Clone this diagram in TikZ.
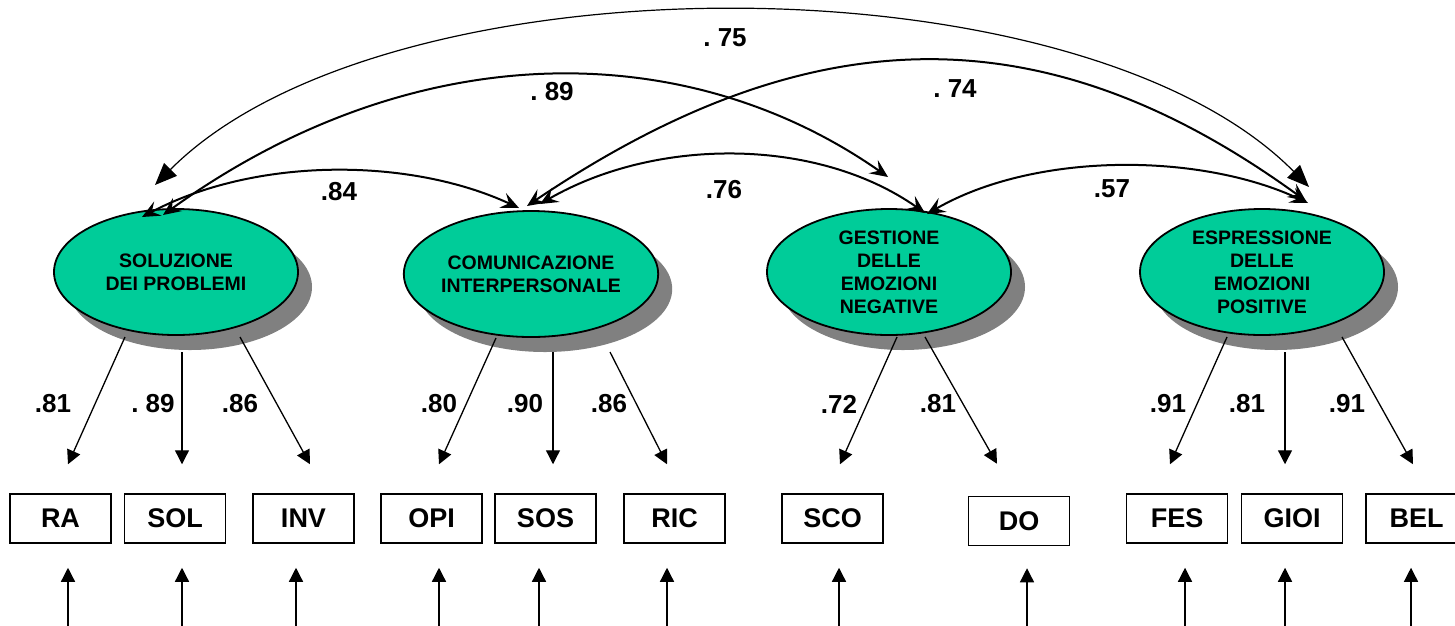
\documentclass[tikz,border=0pt]{standalone}
\usepackage{fontspec}
\setmainfont{Liberation Sans}
\usetikzlibrary{shapes.geometric,shadows,arrows.meta,calc}
\definecolor{latentfill}{RGB}{0,204,153}
\definecolor{shadowgray}{RGB}{128,128,128}
\begin{document}
\begin{tikzpicture}[x=1pt,y=-1pt,
  latent/.style={ellipse, draw, line width=1.8pt, fill=latentfill,
    minimum width=244pt, minimum height=126pt, inner sep=0pt, align=center,
    font=\fontsize{19.5}{23}\selectfont\bfseries,
    drop shadow={shadow xshift=14pt, shadow yshift=-15pt, fill=shadowgray, opacity=1}},
  observed/.style={rectangle, draw, line width=1.5pt, minimum width=101pt,
    minimum height=49pt, inner sep=0pt, font=\fontsize{27}{30}\selectfont\bfseries},
  coef/.style={inner sep=0pt, font=\fontsize{26}{28}\selectfont\bfseries},
  corr/.style={line width=2pt,
    {Stealth[length=18pt,width=16pt,inset=7pt]}-{Stealth[length=18pt,width=16pt,inset=7pt]}},
  corrwide/.style={line width=1.2pt,
    {Triangle[length=22pt,width=18pt]}-{Triangle[length=22pt,width=18pt]}},
  load/.style={line width=1.3pt, -{Triangle[length=14pt,width=14pt]}},
  err/.style={line width=1.3pt, -{Triangle[length=14pt,width=14pt]}}
]
\useasboundingbox (0,0) rectangle (1455,625);
\clip (0,0) rectangle (1455,625);

% latent factors
\node[latent] (E1) at (176,272) {SOLUZIONE\\DEI PROBLEMI};
\node[latent] (E2) at (531,274) {COMUNICAZIONE\\INTERPERSONALE};
\node[latent] (E3) at (889,272) {GESTIONE\\DELLE\\EMOZIONI\\NEGATIVE};
\node[latent] (E4) at (1262,272) {ESPRESSIONE\\DELLE\\EMOZIONI\\POSITIVE};

% observed indicators
\node[observed] (RA)   at (60.5,518.5)  {RA};
\node[observed] (SOL)  at (175,518.5)   {SOL};
\node[observed] (INV)  at (303.5,518.5) {INV};
\node[observed] (OPI)  at (431.5,518.5) {OPI};
\node[observed] (SOS)  at (545.5,518.5) {SOS};
\node[observed] (RIC)  at (674.5,518.5) {RIC};
\node[observed] (SCO)  at (832.5,518.5) {SCO};
\node[observed] (DO)   at (1019,521)    {DO};
\node[observed] (FES)  at (1177,518.5)  {FES};
\node[observed] (GIOI) at (1292,518.5)  {GIOI};
\node[observed] (BEL)  at (1416.5,518.5) {BEL};

% factor loadings
\draw[load] ($(E1)+(-51,65)$) -- ($(RA.north)+(7.5,-29)$);
\draw[load] ($(E1)+(6,80)$)   -- ($(SOL.north)+(7,-29)$);
\draw[load] ($(E1)+(64,65)$)  -- ($(INV.north)+(6.5,-29)$);
\draw[load] ($(E2)+(-35,64)$) -- ($(OPI.north)+(7.5,-29)$);
\draw[load] ($(E2)+(22,78)$)  -- ($(SOS.north)+(7.5,-29)$);
\draw[load] ($(E2)+(79,78)$)  -- ($(RIC.north)+(-7.5,-29)$);
\draw[load] ($(E3)+(8,65)$)   -- ($(SCO.north)+(7.5,-29)$);
\draw[load] ($(E3)+(36,65)$)  -- ($(DO.north)+(-22,-32)$);
\draw[load] ($(E4)+(-35,65)$) -- ($(FES.north)+(-7,-29)$);
\draw[load] ($(E4)+(23,80)$)  -- ($(GIOI.north)+(-7,-29)$);
\draw[load] ($(E4)+(80,65)$)  -- ($(BEL.north)+(-3.5,-29)$);

\node[coef] (l1)  at (53,404)   {.81};
\node[coef] (l2)  at (153,404)  {.\ 89};
\node[coef] (l3)  at (240,404)  {.86};
\node[coef] (l4)  at (439,404)  {.80};
\node[coef] (l5)  at (525,404)  {.90};
\node[coef] (l6)  at (609,404)  {.86};
\node[coef] (l7)  at (839,404)  {.72};
\node[coef] (l8)  at (938,404)  {.81};
\node[coef] (l9)  at (1168,404) {.91};
\node[coef] (l10) at (1247,404) {.81};
\node[coef] (l11) at (1347,404) {.91};

% error terms
\draw[err] ($(RA.south)+(7.5,82)$)   -- ($(RA.south)+(7.5,24)$);
\draw[err] ($(SOL.south)+(7,82)$)    -- ($(SOL.south)+(7,24)$);
\draw[err] ($(INV.south)+(-7.5,82)$) -- ($(INV.south)+(-7.5,24)$);
\draw[err] ($(OPI.south)+(7.5,82)$)  -- ($(OPI.south)+(7.5,24)$);
\draw[err] ($(SOS.south)+(-6.5,82)$) -- ($(SOS.south)+(-6.5,24)$);
\draw[err] ($(RIC.south)+(-7.5,82)$) -- ($(RIC.south)+(-7.5,24)$);
\draw[err] ($(SCO.south)+(6.5,82)$)  -- ($(SCO.south)+(6.5,24)$);
\draw[err] ($(DO.south)+(8,80)$)     -- ($(DO.south)+(8,22)$);
\draw[err] ($(FES.south)+(8,82)$)    -- ($(FES.south)+(8,24)$);
\draw[err] ($(GIOI.south)+(-7,82)$)  -- ($(GIOI.south)+(-7,24)$);
\draw[err] ($(BEL.south)+(-5.5,82)$) -- ($(BEL.south)+(-5.5,24)$);

% factor correlations
\draw[corr] ($(E1)+(-34,-55)$) .. controls +(113,-60) and +(-110,-51) .. ($(E2)+(-12,-66)$);
\draw[corr] ($(E2)+(9,-70)$)   .. controls +(116,-67) and +(-108,-76) .. ($(E3)+(36,-59)$);
\draw[corr] ($(E3)+(38,-58)$)  .. controls +(107,-62) and +(-109,-51) .. ($(E4)+(46,-69)$);
\draw[corr] ($(E1)+(-13,-57)$) .. controls +(250,-180) and +(-203,-142) .. ($(E3)+(-1,-95)$);
\draw[corr] ($(E2)+(-4,-68)$)  .. controls +(286,-193) and +(-259,-188) .. ($(E4)+(44,-71)$);
\draw[corrwide] ($(E1)+(-21,-87)$) .. controls +(230,-231) and +(-230,-233) .. ($(E4)+(47,-85)$);

\node[coef] (c75) at (725,38)  {.\ 75};
\node[coef] (c89) at (552,92)  {.\ 89};
\node[coef] (c74) at (955,89)  {.\ 74};
\node[coef] (c84) at (339,192) {.84};
\node[coef] (c76) at (724,190) {.76};
\node[coef] (c57) at (1112,189) {.57};
\end{tikzpicture}
\end{document}
